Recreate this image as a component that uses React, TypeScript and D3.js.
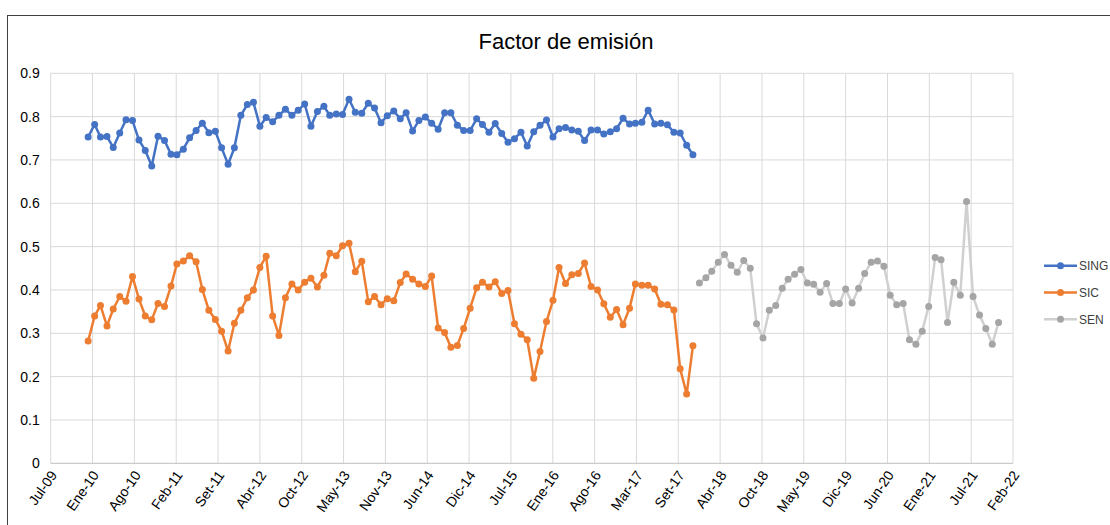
import React, { useEffect, useRef } from 'react';
import * as d3 from 'd3';

// monthly values, Ene-10 .. Dic-17
const sing = [
  0.753, 0.782, 0.753, 0.754, 0.729, 0.762, 0.793, 0.791, 0.746, 0.722, 0.686, 0.755,
  0.745, 0.713, 0.712, 0.725, 0.751, 0.768, 0.785, 0.763, 0.766, 0.728, 0.690, 0.728,
  0.803, 0.828, 0.833, 0.778, 0.798, 0.788, 0.803, 0.817, 0.803, 0.815, 0.829, 0.778,
  0.812, 0.824, 0.803, 0.806, 0.805, 0.840, 0.810, 0.808, 0.831, 0.820, 0.786, 0.802,
  0.813, 0.795, 0.809, 0.767, 0.791, 0.799, 0.785, 0.771, 0.809, 0.809, 0.780, 0.768,
  0.768, 0.795, 0.782, 0.764, 0.784, 0.761, 0.741, 0.749, 0.764, 0.732, 0.765, 0.780,
  0.792, 0.753, 0.772, 0.775, 0.769, 0.766, 0.745, 0.769, 0.769, 0.760, 0.765, 0.772,
  0.796, 0.783, 0.785, 0.787, 0.815, 0.783, 0.785, 0.781, 0.764, 0.762, 0.734, 0.712,
];

const sic = [
  0.282, 0.340, 0.364, 0.317, 0.356, 0.385, 0.374, 0.431, 0.379, 0.340, 0.331, 0.369,
  0.362, 0.409, 0.460, 0.467, 0.479, 0.465, 0.401, 0.353, 0.332, 0.305, 0.259, 0.323,
  0.353, 0.382, 0.400, 0.452, 0.478, 0.340, 0.295, 0.382, 0.414, 0.400, 0.418, 0.427,
  0.407, 0.434, 0.485, 0.479, 0.502, 0.508, 0.442, 0.466, 0.373, 0.385, 0.366, 0.380,
  0.375, 0.417, 0.437, 0.425, 0.414, 0.408, 0.432, 0.312, 0.302, 0.268, 0.272, 0.311,
  0.358, 0.405, 0.418, 0.407, 0.419, 0.392, 0.399, 0.322, 0.298, 0.285, 0.196, 0.258,
  0.327, 0.376, 0.452, 0.415, 0.435, 0.438, 0.462, 0.408, 0.400, 0.368, 0.337, 0.355,
  0.320, 0.358, 0.414, 0.411, 0.411, 0.402, 0.367, 0.366, 0.354, 0.218, 0.160, 0.271,
];

// monthly values, Ene-18 .. Dic-21
const sen = [
  0.416, 0.428, 0.443, 0.464, 0.482, 0.457, 0.441, 0.468, 0.450, 0.322, 0.289, 0.353,
  0.364, 0.404, 0.425, 0.436, 0.447, 0.416, 0.413, 0.395, 0.415, 0.369, 0.369, 0.402,
  0.370, 0.404, 0.438, 0.464, 0.467, 0.455, 0.388, 0.366, 0.369, 0.285, 0.275, 0.305,
  0.362, 0.475, 0.470, 0.325, 0.418, 0.388, 0.604, 0.385, 0.342, 0.311, 0.275, 0.325,
];

const xTickLabels = [
  'Jul-09', 'Ene-10', 'Ago-10', 'Feb-11', 'Set-11', 'Abr-12', 'Oct-12', 'May-13',
  'Nov-13', 'Jun-14', 'Dic-14', 'Jul-15', 'Ene-16', 'Ago-16', 'Mar-17', 'Set-17',
  'Abr-18', 'Oct-18', 'May-19', 'Dic-19', 'Jun-20', 'Ene-21', 'Jul-21', 'Feb-22',
];
const yTicks = [0, 0.1, 0.2, 0.3, 0.4, 0.5, 0.6, 0.7, 0.8, 0.9];

const FONT = '"Liberation Sans", Arial, sans-serif';

function App() {
  const ref = useRef<SVGSVGElement>(null);

  useEffect(() => {
    const svg = d3.select(ref.current);
    svg.selectAll('*').remove();

    // excel-like date axis: major unit 200 days from 2009-07-06
    const axisStart = new Date(Date.UTC(2009, 6, 6));
    const tickDates = xTickLabels.map((_, i) => d3.utcDay.offset(axisStart, i * 200));

    const left = 50.7, right = 1013, top = 73.3, bottom = 463.3;
    const x = d3.scaleUtc().domain([tickDates[0], tickDates[tickDates.length - 1]]).range([left, right]);
    const y = d3.scaleLinear().domain([0, 0.9]).range([bottom, top]);

    svg.append('rect')
      .attr('x', 7.5).attr('y', 15.5).attr('width', 1130).attr('height', 540)
      .attr('fill', 'white').attr('stroke', '#404040').attr('stroke-width', 1);

    svg.append('text')
      .attr('x', 566).attr('y', 49.3)
      .attr('text-anchor', 'middle')
      .attr('font-family', FONT).attr('font-size', 22).attr('fill', '#000')
      .text('Factor de emisión');

    // grid
    svg.append('g').selectAll('line.h')
      .data(yTicks.filter(d => d > 0))
      .enter().append('line')
      .attr('x1', left).attr('x2', right)
      .attr('y1', d => y(d)).attr('y2', d => y(d))
      .attr('stroke', '#d9d9d9');

    svg.append('g').selectAll('line.v')
      .data(tickDates)
      .enter().append('line')
      .attr('x1', d => x(d)).attr('x2', d => x(d))
      .attr('y1', top).attr('y2', bottom)
      .attr('stroke', '#d9d9d9');

    svg.append('line')
      .attr('x1', left).attr('x2', right)
      .attr('y1', bottom).attr('y2', bottom)
      .attr('stroke', '#bfbfbf');

    // y labels
    svg.append('g').selectAll('text')
      .data(yTicks)
      .enter().append('text')
      .attr('x', left - 11).attr('y', d => y(d) + 5)
      .attr('text-anchor', 'end')
      .attr('font-family', FONT).attr('font-size', 14).attr('fill', '#000')
      .text(d => d3.format('.1~f')(d));

    // x labels
    svg.append('g').selectAll('text')
      .data(tickDates)
      .enter().append('text')
      .attr('transform', d => `translate(${x(d) + 3},${bottom + 9}) rotate(-55)`)
      .attr('text-anchor', 'end')
      .attr('font-family', FONT).attr('font-size', 14).attr('fill', '#000')
      .attr('dy', '0.35em')
      .text((_, i) => xTickLabels[i]);

    const start10 = new Date(Date.UTC(2010, 0, 1));
    const start18 = new Date(Date.UTC(2018, 0, 1));
    const series = [
      { name: 'SING', values: sing, start: start10, line: '#4472c4', dot: '#4472c4' },
      { name: 'SIC', values: sic, start: start10, line: '#ed7d31', dot: '#ed7d31' },
      { name: 'SEN', values: sen, start: start18, line: '#d0d0d0', dot: '#a5a5a5' },
    ];

    series.forEach(s => {
      const pts = s.values.map((v, i) => ({ d: d3.utcMonth.offset(s.start, i), v }));
      const line = d3.line<{ d: Date; v: number }>().x(p => x(p.d)).y(p => y(p.v));
      svg.append('path')
        .datum(pts)
        .attr('d', line)
        .attr('fill', 'none')
        .attr('stroke', s.line)
        .attr('stroke-width', 2.5)
        .attr('stroke-linejoin', 'round');
      svg.append('g').selectAll('circle')
        .data(pts)
        .enter().append('circle')
        .attr('cx', p => x(p.d)).attr('cy', p => y(p.v))
        .attr('r', 3.5)
        .attr('fill', s.dot);
    });

    // legend
    const lg = svg.append('g').selectAll('g')
      .data(series)
      .enter().append('g')
      .attr('transform', (_, i) => `translate(1044,${265.7 + i * 26.8})`);
    lg.append('line').attr('x1', 0).attr('x2', 33).attr('y1', 0).attr('y2', 0)
      .attr('stroke', d => d.line).attr('stroke-width', 2.5);
    lg.append('circle').attr('cx', 16.5).attr('cy', 0).attr('r', 3.5).attr('fill', d => d.dot);
    lg.append('text').attr('x', 35).attr('y', 4.2)
      .attr('font-family', FONT).attr('font-size', 12).attr('fill', '#404040')
      .text(d => d.name);
  }, []);

  return (
    <svg ref={ref} width={1110} height={525}
      style={{ position: 'absolute', left: 0, top: 0, background: 'white' }} />
  );
}

export default App;
